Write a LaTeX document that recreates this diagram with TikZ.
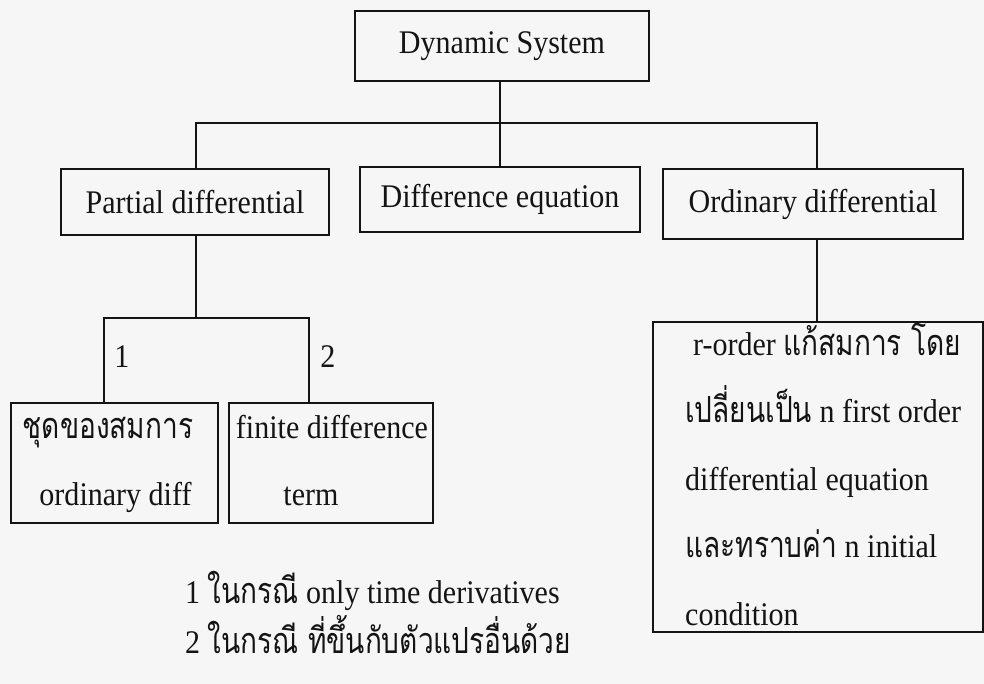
\documentclass[tikz,border=0pt]{standalone}
\usepackage{fontspec}
\setmainfont[FakeStretch=0.91]{Liberation Serif}
\newfontfamily\thaifont[Script=Thai,Scale=1.09,FakeStretch=0.78]{Loma}
\newcommand\thx[1]{{\thaifont #1}}
\definecolor{paper}{RGB}{246,246,246}
\definecolor{ink}{RGB}{20,20,20}
\begin{document}
\begin{tikzpicture}[x=1pt,y=-1pt,
  txt/.style={inner sep=0pt, text=ink, font=\fontsize{33}{40}\selectfont},
  box/.style={txt, draw=ink, line width=2.2pt},
  conn/.style={draw=ink, line width=2.2pt}]
\fill[paper] (0,0) rectangle (984,684);
\useasboundingbox (0,0) rectangle (984,684);

% level 0 and 1 boxes
\node[box, minimum width=294pt, minimum height=70pt] (ds) at (502,46) {Dynamic System};
\node[box, minimum width=268pt, minimum height=66pt] (pd) at (195,202) {Partial differential};
\node[box, minimum width=280pt, minimum height=65pt] (de) at (500,199.5) {Difference equation};
\node[box, minimum width=300pt, minimum height=70pt] (od) at (813,204) {Ordinary differential};

% level 2 boxes
\node[box, minimum width=207pt, minimum height=120pt] (c1) at (114.5,463) {};
\node[box, minimum width=204pt, minimum height=120pt] (c2) at (331,463) {};
\node[box, minimum width=330pt, minimum height=310pt] (big) at (818,477) {};

% connectors
\coordinate (jL) at (196,123);
\coordinate (jR) at (817,123);
\coordinate (kM) at (196,318);
\coordinate (kL) at (104,318);
\coordinate (kR) at (309,318);
\draw[conn] (ds.south -| de.north) -- (de.north);
\draw[conn] (pd.north -| jL) -- (jL) -- (jR) -- (od.north -| jR);
\draw[conn] (pd.south -| kM) -- (kM);
\draw[conn] (c1.north -| kL) -- (kL) -- (kR) -- (c2.north -| kR);
\draw[conn] (od.south -| jR) -- (big.north -| jR);

% branch labels
\node[txt] (l1) at (122,357) {1};
\node[txt] (l2) at (328,357) {2};

% texts in lower boxes
\node[txt, anchor=base] (c1a) at (108,438) {\thx{ชุดของสมการ}};
\node[txt, anchor=base] (c1b) at (115.5,505) {ordinary diff};
\node[txt, anchor=base] (c2a) at (332,438) {finite difference};
\node[txt, anchor=base] (c2b) at (311,505) {term};

\node[txt, anchor=base west] (b1) at (693,355) {r-order \thx{แก้สมการ โดย}};
\node[txt, anchor=base west] (b2) at (685,422) {\thx{เปลี่ยนเป็น} n first order};
\node[txt, anchor=base west] (b3) at (685,490) {differential equation};
\node[txt, anchor=base west] (b4) at (685,557) {\thx{และทราบค่า} n initial};
\node[txt, anchor=base west] (b5) at (685,625) {condition};

% legend
\node[txt, anchor=base west] (g1) at (185,603) {1 \thx{ในกรณี} only time derivatives};
\node[txt, anchor=base west] (g2) at (185,653) {2 \thx{ในกรณี ที่ขึ้นกับตัวแปรอื่นด้วย}};
\end{tikzpicture}
\end{document}
